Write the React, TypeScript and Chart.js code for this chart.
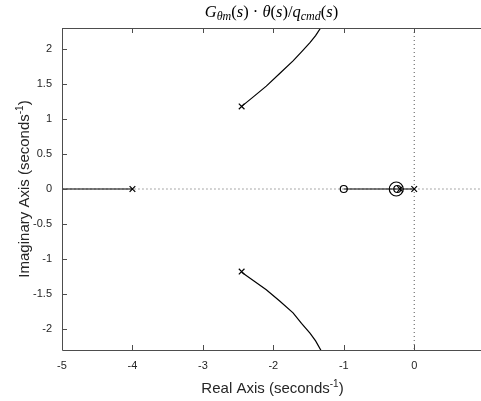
import { useEffect, useRef } from 'react';
import { Chart, registerables } from 'chart.js';

Chart.register(...registerables);

// ---- data ----
const xTicks = [-5, -4, -3, -2, -1, 0];
const yTicks = [-2, -1.5, -1, -0.5, 0, 0.5, 1, 1.5, 2];

const poleRe = [-4, -2.45, -2.45, -0.2, 0];
const poleIm = [0, 1.18, -1.18, 0, 0];
const zeroRe = [-1, -0.24];
const zeroIm = [0, 0];
const ringRe = [-0.255];
const ringIm = [0];

const upRe = [-2.45, -2.28, -2.1, -1.91, -1.72, -1.6, -1.48, -1.4, -1.31];
const upIm = [1.18, 1.32, 1.47, 1.65, 1.83, 1.96, 2.09, 2.19, 2.33];
const loRe = [-2.45, -2.28, -2.1, -1.91, -1.72, -1.6, -1.48, -1.4, -1.31];
const loIm = [-1.19, -1.31, -1.44, -1.6, -1.77, -1.92, -2.06, -2.17, -2.33];
const leftRe = [-5.05, -4];
const leftIm = [0, 0];
const realRe = [-1, 0];
const realIm = [0, 0];

const zip = (a: number[], b: number[]) => a.map((v, i) => ({ x: v, y: b[i] }));

const SANS = '"Liberation Sans", Arial, sans-serif';
const SERIF = '"Liberation Serif", "Times New Roman", serif';
const AXIS = '#4d4d4d';
const TXT = '#262626';

const deco = {
  id: 'deco',
  afterDraw(chart: any) {
    const { ctx, chartArea } = chart;
    const { left, right, top, bottom } = chartArea;
    const xs = chart.scales.x;
    const ys = chart.scales.y;
    ctx.save();
    ctx.strokeStyle = AXIS;
    ctx.lineWidth = 1;
    ctx.beginPath();
    ctx.moveTo(left + 0.5, top + 0.5);
    ctx.lineTo(left + 0.5, bottom + 0.5);
    ctx.lineTo(right, bottom + 0.5);
    ctx.moveTo(left, top + 0.5);
    ctx.lineTo(right, top + 0.5);
    for (const v of xTicks) {
      const px = Math.round(xs.getPixelForValue(v)) + 0.5;
      ctx.moveTo(px, bottom);
      ctx.lineTo(px, bottom - 5);
      ctx.moveTo(px, top);
      ctx.lineTo(px, top + 5);
    }
    for (const v of yTicks) {
      const py = Math.round(ys.getPixelForValue(v)) + 0.5;
      ctx.moveTo(left, py);
      ctx.lineTo(left + 5, py);
    }
    ctx.stroke();

    // axis titles
    ctx.fillStyle = TXT;
    const drawWithSup = (cx: number, cy: number, main: string, sup: string, tail: string) => {
      ctx.font = `15px ${SANS}`;
      const w1 = ctx.measureText(main).width;
      const w3 = ctx.measureText(tail).width;
      ctx.font = `10px ${SANS}`;
      const w2 = ctx.measureText(sup).width;
      const total = w1 + w2 + w3;
      let x0 = cx - total / 2;
      ctx.textBaseline = 'alphabetic';
      ctx.textAlign = 'left';
      ctx.font = `15px ${SANS}`;
      ctx.fillText(main, x0, cy);
      x0 += w1;
      ctx.font = `10px ${SANS}`;
      ctx.fillText(sup, x0, cy - 6);
      x0 += w2;
      ctx.font = `15px ${SANS}`;
      ctx.fillText(tail, x0, cy);
    };
    drawWithSup(272.5, 393, 'Real Axis (seconds', '-1', ')');
    ctx.save();
    ctx.translate(29, (top + bottom) / 2);
    ctx.rotate(-Math.PI / 2);
    drawWithSup(0, 0, 'Imaginary Axis (seconds', '-1', ')');
    ctx.restore();

    // title
    const segs: [string, boolean, boolean][] = [
      ['G', true, false], ['θm', true, true], ['(', false, false], ['s', true, false],
      [') · ', false, false], ['θ', true, false], ['(', false, false], ['s', true, false],
      [')/', false, false], ['q', true, false], ['cmd', true, true], ['(', false, false],
      ['s', true, false], [')', false, false],
    ];
    const fontOf = (it: boolean, sub: boolean) => `${it ? 'italic ' : ''}${sub ? 12 : 16.5}px ${SERIF}`;
    let tw = 0;
    for (const [t, it, sub] of segs) {
      ctx.font = fontOf(it, sub);
      tw += ctx.measureText(t).width;
    }
    let tx = 271.5 - tw / 2;
    const ty = 17;
    ctx.fillStyle = '#000';
    for (const [t, it, sub] of segs) {
      ctx.font = fontOf(it, sub);
      ctx.fillText(t, tx, sub ? ty + 3 : ty);
      tx += ctx.measureText(t).width;
    }
    ctx.restore();
  },
};

export default function App() {
  const ref = useRef<HTMLCanvasElement>(null);
  useEffect(() => {
    const lineDs = (data: any[], extra: any = {}) => ({
      data,
      showLine: true,
      pointRadius: 0,
      borderColor: '#000',
      borderWidth: 1.2,
      fill: false,
      ...extra,
    });
    const chart = new Chart(ref.current!, {
      type: 'scatter',
      data: {
        datasets: [
          {
            data: zip(poleRe, poleIm),
            pointStyle: 'crossRot',
            pointRadius: 4,
            borderColor: '#000',
            borderWidth: 1.2,
            backgroundColor: 'rgba(0,0,0,0)',
          } as any,
          {
            data: zip(zeroRe, zeroIm),
            pointStyle: 'circle',
            pointRadius: 3.5,
            borderColor: '#000',
            borderWidth: 1.2,
            backgroundColor: 'rgba(0,0,0,0)',
          },
          {
            data: zip(ringRe, ringIm),
            pointStyle: 'circle',
            pointRadius: 7,
            borderColor: '#000',
            borderWidth: 1.2,
            backgroundColor: 'rgba(0,0,0,0)',
          },
          lineDs(zip(upRe, upIm)),
          lineDs(zip(loRe, loIm)),
          lineDs(zip(leftRe, leftIm)),
          lineDs(zip(realRe, realIm)),
          lineDs(zip([-5.05, 1], [0, 0]), { borderColor: '#555', borderWidth: 1, borderDash: [1, 3] }),
          lineDs(zip([0, 0], [-2.4, 2.4]), { borderColor: '#555', borderWidth: 1, borderDash: [1, 3] }),
        ],
      },
      options: {
        animation: false,
        responsive: false,
        devicePixelRatio: 1,
        layout: { autoPadding: false, padding: { top: 28, left: 0, right: 0, bottom: 0 } },
        plugins: { legend: { display: false }, tooltip: { enabled: false }, title: { display: false } },
        scales: {
          x: {
            type: 'linear',
            min: -5,
            max: 0.948,
            afterBuildTicks: (s: any) => {
              s.ticks = xTicks.map((v) => ({ value: v }));
            },
            afterFit: (s: any) => {
              s.height = 51;
              s.paddingLeft = 0;
              s.paddingRight = 0;
            },
            grid: { display: false, drawTicks: false },
            border: { display: false },
            ticks: { padding: 9, color: TXT, font: { family: SANS, size: 11 }, callback: (v: any) => String(v) },
          },
          y: {
            type: 'linear',
            min: -2.3,
            max: 2.3,
            afterBuildTicks: (s: any) => {
              s.ticks = yTicks.map((v) => ({ value: v }));
            },
            afterFit: (s: any) => {
              s.width = 62;
              s.paddingTop = 0;
              s.paddingBottom = 0;
            },
            grid: { display: false, drawTicks: false },
            border: { display: false },
            ticks: { padding: 10, color: TXT, font: { family: SANS, size: 11 }, callback: (v: any) => String(v) },
          },
        },
      },
      plugins: [deco],
    });
    return () => chart.destroy();
  }, []);
  return (
    <canvas
      ref={ref}
      width={481}
      height={401}
      style={{ position: 'absolute', left: 0, top: 0, width: 481, height: 401, display: 'block' }}
    />
  );
}
